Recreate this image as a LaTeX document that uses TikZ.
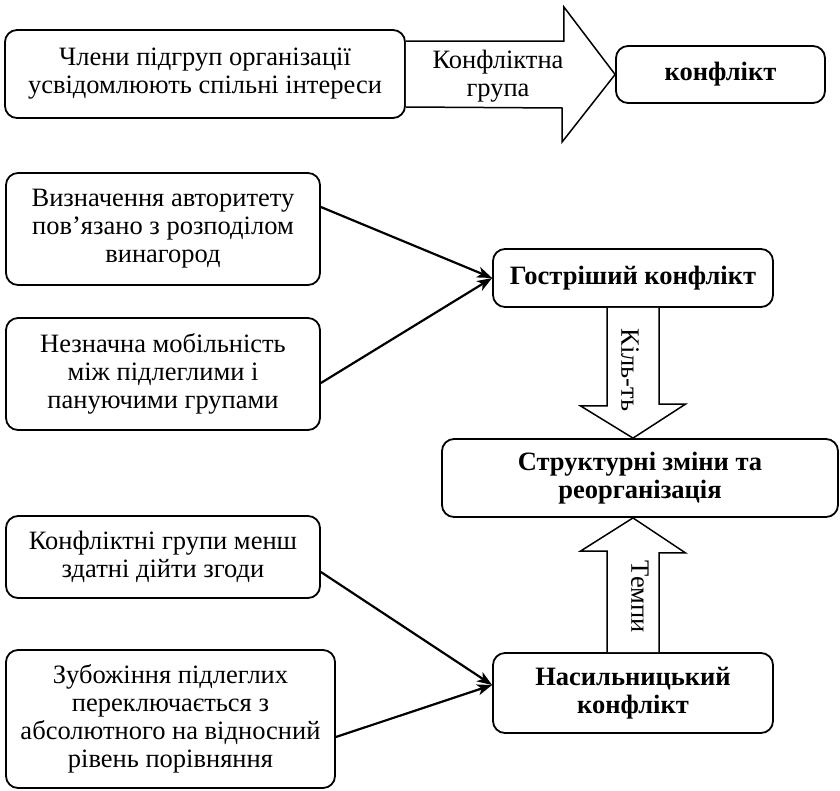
\documentclass[tikz,border=0pt]{standalone}
\usepackage{fontspec}
\setmainfont{Liberation Serif}
\usetikzlibrary{arrows.meta, calc}

\tikzset{
  box/.style={draw, line width=1.8pt, rounded corners=12pt, align=center, inner sep=0pt, fill=white},
  link/.style={-{Stealth[length=15pt, width=11pt, inset=4pt]}, line width=2.2pt},
  blockarrow/.style={draw, line width=1.5pt, fill=white, line join=miter},
  boldtext/.style={font=\fontsize{26.5}{28}\selectfont\bfseries},
}

\begin{document}
\begin{tikzpicture}[x=1pt, y=-1pt, font=\fontsize{26.5}{28}\selectfont]
  \useasboundingbox (0,0) rectangle (840,790);

  % --- top row ---
  \node[box, minimum width=400pt, minimum height=88pt] (members) at (205,74) {Члени підгруп організації\\усвідомлюють спільні інтереси};
  \node[box, boldtext, minimum width=209pt, minimum height=57pt] (conflict) at (720.5,74.5) {конфлікт};
  \draw[blockarrow] ($(members.east)+(0,-33)$) -- ++(158,0) -- ++(0,-34) -- (conflict.west)
    -- ++(-53,67.5) -- ++(0,-34) -- ($(members.east)+(0,33)$);
  \node[align=center] (grouplbl) at (498,76) {Конфліктна\\група};

  % --- causes on the left ---
  \node[box, minimum width=314pt, minimum height=112pt] (authority) at (163,229) {Визначення авторитету\\пов’язано з розподілом\\винагород};
  \node[box, minimum width=314pt, minimum height=112pt] (mobility) at (163,374) {Незначна мобільність\\між підлеглими і\\пануючими групами};
  \node[box, minimum width=314pt, minimum height=82pt] (agree) at (163,557) {Конфліктні групи менш\\здатні дійти згоди};
  \node[box, minimum width=329pt, minimum height=138pt] (poverty) at (170.5,719) {Зубожіння підлеглих\\переключається з\\абсолютного на відносний\\рівень порівняння};

  % --- outcomes on the right ---
  \node[box, boldtext, minimum width=280pt, minimum height=58pt] (sharper) at (633,278) {Гостріший конфлікт};
  \node[box, boldtext, minimum width=396pt, minimum height=78pt] (restruct) at (640,478) {Структурні зміни та\\реорганізація};
  \node[box, boldtext, minimum width=280pt, minimum height=80pt] (violent) at (633,693) {Насильницький\\конфлікт};

  % links
  \draw[link] ($(authority.east)+(0,-22)$) -- (sharper.west);
  \draw[link] ($(mobility.east)+(0,9)$) -- (sharper.west);
  \draw[link] ($(agree.east)+(0,15)$) -- ($(violent.west)+(0,-8)$);
  \draw[link] ($(poverty.east)+(0,18)$) -- ($(violent.west)+(0,-8)$);

  % block arrows into the middle box
  \draw[blockarrow] ($(sharper.south)+(-26,0)$) -- ++(0,98) -- ++(-26.5,0) -- (sharper.south |- restruct.north)
    -- ++(52.5,-34) -- ++(-26.5,0) -- ($(sharper.south)+(26,0)$);
  \node[rotate=-90] (amount) at (630,370) {Кіль-ть};
  \draw[blockarrow] ($(violent.north)+(-26,0)$) -- ++(0,-101) -- ++(-26.5,0) -- (violent.north |- restruct.south)
    -- ++(52.5,35) -- ++(-26.5,0) -- ($(violent.north)+(26,0)$);
  \node[rotate=-90] (pace) at (640,597) {Темпи};
\end{tikzpicture}
\end{document}
